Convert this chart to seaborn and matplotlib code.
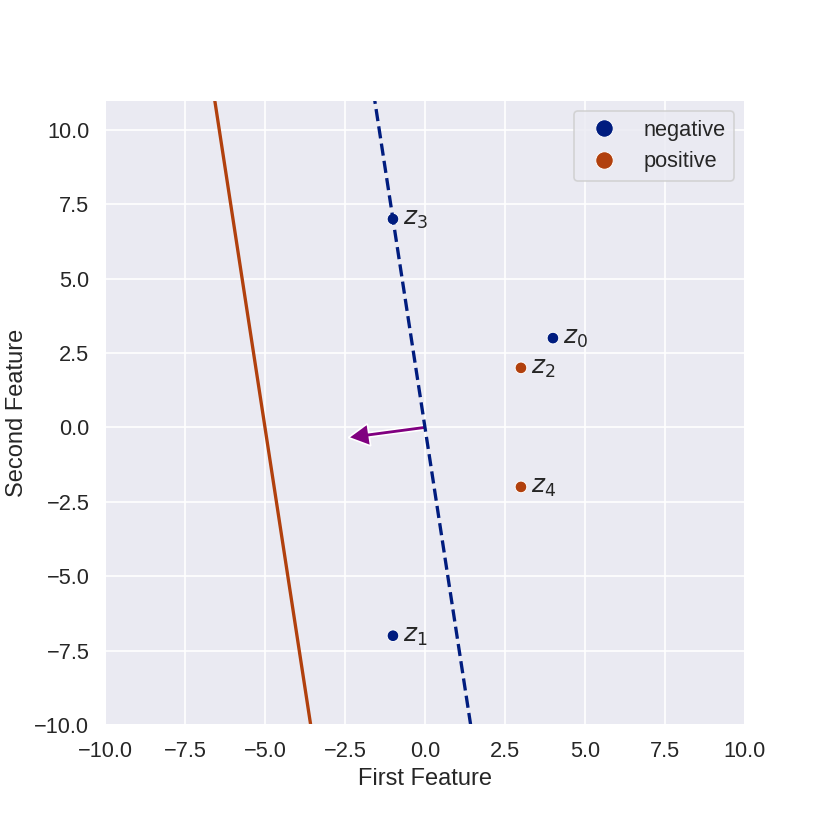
import numpy as np
import pandas as pd
import matplotlib.pyplot as plt
import seaborn as sns

# --- datos ---
x1 = [4, -1, 3, -1, 3]
x2 = [3, -7, 2, 7, -2]
labels = ["negative", "negative", "positive", "negative", "positive"]
names = ["$z_0$", "$z_1$", "$z_2$", "$z_3$", "$z_4$"]

# frontera w.x + b = 0, w = (7, 1)
w = [7, 1]
b_dashed = 0
b_solid = 35
y_line = [-10, 11]
arrow_vec = [-1.75, -0.25]

sns.set_theme(style="darkgrid", palette="dark", font_scale=1.2)
plt.rcParams["font.family"] = ["Liberation Sans", "DejaVu Sans"]
pal = sns.color_palette("dark")

df = pd.DataFrame({"x1": x1, "x2": x2, "label": labels})

fig = plt.figure(figsize=(7, 7), dpi=830 / 7)
ax = fig.add_axes([0.1265, 0.1265, 0.771, 0.753])

sns.scatterplot(data=df, x="x1", y="x2", hue="label", s=50,
                hue_order=["negative", "positive"], palette=pal[:2], ax=ax)

ys = np.array(y_line, dtype=float)
ax.plot(-(w[1] * ys + b_dashed) / w[0], ys, "--", color=pal[0], lw=2)
ax.plot(-(w[1] * ys + b_solid) / w[0], ys, "-", color=pal[1], lw=2)

ax.arrow(0, 0, arrow_vec[0], arrow_vec[1], width=0.15, head_width=0.75,
         head_length=0.65, facecolor="purple", edgecolor="white", lw=1)

for xi, yi, n in zip(x1, x2, names):
    ax.text(xi + 0.3, yi, n, fontsize=15, va="center", ha="left",
            family="DejaVu Sans")

ax.set_xlim(-10, 10)
ax.set_ylim(-10, 11)
ax.set_xlabel("First Feature")
ax.set_ylabel("Second Feature")
ax.legend(loc="upper right", title=None, markerscale=1.5)

plt.savefig("out.png")
